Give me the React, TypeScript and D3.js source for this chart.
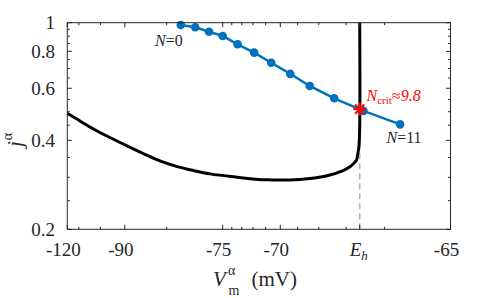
import React, { useEffect, useRef } from 'react';
import * as d3 from 'd3';

// blue series: N = 0 .. 11
const nVm = [-79.9, -78.0, -76.4, -75.0, -73.4, -71.9, -70.6, -69.4, -68.4, -67.4, -66.5, -65.7];
const nJ = [0.982, 0.965, 0.932, 0.902, 0.845, 0.792, 0.732, 0.671, 0.611, 0.555, 0.503, 0.453];

// black curve
const curveVm = [-120, -113.3, -103.5, -95.5, -89.5, -86.0, -83.0, -80.4, -78.2, -76.3, -73.8, -70.9, -68.9,
  -67.7, -67.1, -66.87, -66.77, -66.69, -66.65, -66.62, -66.6, -66.6];
const curveJ = [0.494, 0.472, 0.437, 0.408, 0.383, 0.360, 0.340, 0.326, 0.316, 0.308, 0.301, 0.294, 0.295,
  0.303, 0.316, 0.326, 0.334, 0.343, 0.362, 0.383, 0.45, 1.0];

const Eh = -66.6;
const critJ = 0.51;

const xMajor = [-120, -90, -75, -70, Eh, -65];
const xMajorLabels = ['-120', '-90', '-75', '-70', 'Eh', '-65'];
const xMinor = [-112, -100, -82, -74, -73, -72, -71, -69, -68, -67, -66];
const yMajor = [0.2, 0.4, 0.6, 0.8, 1];
const yMajorLabels = ['0.2', '0.4', '0.6', '0.8', '1'];
const yMinor = [0.25, 0.3, 0.35, 0.45, 0.5, 0.55, 0.65, 0.7, 0.75, 0.85, 0.9, 0.95];

const W = 498, H = 298;
const L = 67.3, R = 450.5, T = 22.7, B = 229.3;
const BLUE = '#0072BD';
const AX = '#262626';
const FONT = 'Liberation Serif, serif';

const Chart = () => {
  const ref = useRef<SVGSVGElement | null>(null);

  useEffect(() => {
    if (!ref.current) return;
    const svg = d3.select(ref.current);
    svg.selectAll('*').remove();

    // x axis is stretched toward -65 mV: piecewise linear in log(-64 - V)
    const warp = (v: number) => Math.log(-64 - v);
    const xw = d3.scaleLinear()
      .domain([-120, -90, -75, -65].map(warp))
      .range([L, 124.8, 222.7, R]);
    const x = (v: number) => xw(warp(v));
    const y = d3.scaleLog().domain([0.2, 1]).range([B, T]);

    // dashed line at Eh
    svg.append('line')
      .attr('x1', x(Eh)).attr('x2', x(Eh))
      .attr('y1', y(0.2)).attr('y2', y(0.6))
      .attr('stroke', '#b3b3b3').attr('stroke-width', 1.5)
      .attr('stroke-dasharray', '6,4');

    // black curve
    const pts: [number, number][] = curveVm.map((v, i) => [x(v), y(curveJ[i])]);
    svg.append('path')
      .attr('d', d3.line().curve(d3.curveCatmullRom)(pts))
      .attr('fill', 'none').attr('stroke', '#000').attr('stroke-width', 3);

    // blue series
    const bpts: [number, number][] = nVm.map((v, i) => [x(v), y(nJ[i])]);
    svg.append('path')
      .attr('d', d3.line()(bpts))
      .attr('fill', 'none').attr('stroke', BLUE).attr('stroke-width', 2.5);
    svg.selectAll('circle.n')
      .data(bpts)
      .enter()
      .append('circle')
      .attr('class', 'n')
      .attr('cx', d => d[0]).attr('cy', d => d[1])
      .attr('r', 4.3).attr('fill', BLUE);

    // critical point star
    const sx = x(Eh), sy = y(critJ), s = 6.5;
    const star = svg.append('g').attr('stroke', '#ff0000').attr('stroke-width', 2);
    [0, 45, 90, 135].forEach(a => {
      const r = (a * Math.PI) / 180;
      star.append('line')
        .attr('x1', sx - s * Math.cos(r)).attr('y1', sy - s * Math.sin(r))
        .attr('x2', sx + s * Math.cos(r)).attr('y2', sy + s * Math.sin(r));
    });

    // box
    svg.append('rect')
      .attr('x', L).attr('y', T).attr('width', R - L).attr('height', B - T)
      .attr('fill', 'none').attr('stroke', AX).attr('stroke-width', 1);

    // ticks (inward, all four sides)
    const tk = svg.append('g').attr('stroke', AX).attr('stroke-width', 1);
    const xt = xMajor.map(v => ({ v, len: 4.5 })).concat(xMinor.map(v => ({ v, len: 2.5 })));
    xt.forEach(t => {
      tk.append('line').attr('x1', x(t.v)).attr('x2', x(t.v)).attr('y1', B).attr('y2', B - t.len);
      tk.append('line').attr('x1', x(t.v)).attr('x2', x(t.v)).attr('y1', T).attr('y2', T + t.len);
    });
    const yt = yMajor.map(v => ({ v, len: 4.5 })).concat(yMinor.map(v => ({ v, len: 2.5 })));
    yt.forEach(t => {
      tk.append('line').attr('y1', y(t.v)).attr('y2', y(t.v)).attr('x1', L).attr('x2', L + t.len);
      tk.append('line').attr('y1', y(t.v)).attr('y2', y(t.v)).attr('x1', R).attr('x2', R - t.len);
    });

    const txt = svg.append('g').attr('font-family', FONT).attr('fill', '#262626');

    // y tick labels
    yMajor.forEach((v, i) => {
      txt.append('text')
        .attr('x', 55).attr('y', y(v)).attr('dy', '0.35em')
        .attr('text-anchor', 'end').attr('font-size', 19)
        .text(yMajorLabels[i]);
    });

    // x tick labels
    xMajor.forEach((v, i) => {
      const lab = xMajorLabels[i];
      if (lab === 'Eh') {
        const t = txt.append('text')
          .attr('x', x(v) - 1).attr('y', 255.5).attr('text-anchor', 'middle').attr('font-size', 19);
        t.append('tspan').attr('font-style', 'italic').text('E');
        t.append('tspan').attr('font-style', 'italic').attr('font-size', 13).attr('dy', 4).text('h');
      } else {
        txt.append('text')
          .attr('x', x(v) - 4).attr('y', 255.5).attr('text-anchor', 'middle').attr('font-size', 19)
          .text(lab);
      }
    });

    // x axis label
    txt.append('text').attr('x', 213).attr('y', 286).attr('font-size', 21)
      .attr('font-style', 'italic').text('V');
    txt.append('text').attr('x', 228).attr('y', 275).attr('font-size', 14).text('α');
    txt.append('text').attr('x', 228.5).attr('y', 295).attr('font-size', 14).text('m');
    txt.append('text').attr('x', 251.5).attr('y', 286).attr('font-size', 21).text('(mV)');

    // y axis label
    const yl = txt.append('g').attr('transform', 'translate(22,0) rotate(-90)');
    const ylt = yl.append('text').attr('x', -147).attr('y', 0).attr('font-size', 21);
    ylt.append('tspan').attr('font-style', 'italic').text('j');
    ylt.append('tspan').attr('font-size', 14).attr('dy', -10).attr('dx', 1).text('α');

    // annotations
    const n0 = txt.append('text').attr('x', 155).attr('y', 46).attr('font-size', 16);
    n0.append('tspan').attr('font-style', 'italic').text('N');
    n0.append('tspan').text('=0');

    const n11 = txt.append('text').attr('x', 386.5).attr('y', 143).attr('font-size', 16);
    n11.append('tspan').attr('font-style', 'italic').text('N');
    n11.append('tspan').text('=11');

    const nc = svg.append('text').attr('x', 366.5).attr('y', 101).attr('font-size', 16)
      .attr('font-family', FONT).attr('fill', '#ff0000');
    nc.append('tspan').attr('font-style', 'italic').text('N');
    nc.append('tspan').attr('font-size', 11).attr('dy', 3).text('crit');
    nc.append('tspan').attr('dy', -3).text('≈');
    nc.append('tspan').attr('font-style', 'italic').text('9.8');
  }, []);

  return (
    <svg ref={ref} width={W} height={H}
      style={{ position: 'absolute', left: 0, top: 0, background: '#fff' }} />
  );
};

export default function App() {
  return <Chart />;
}
